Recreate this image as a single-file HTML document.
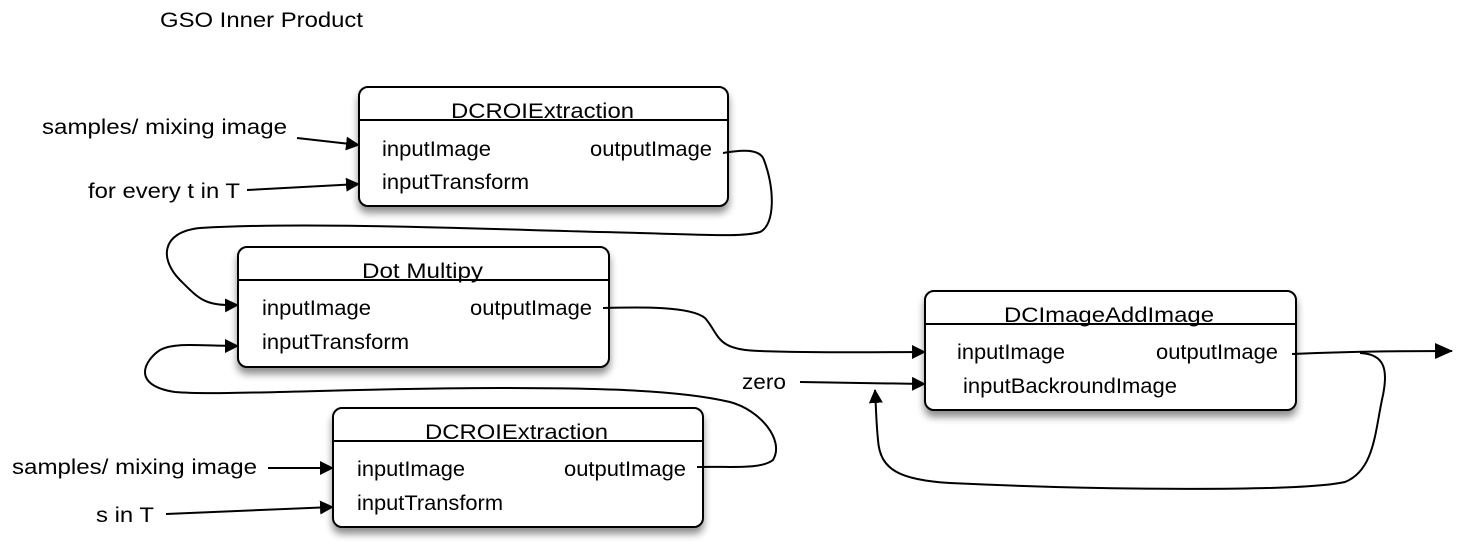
<!DOCTYPE html>
<html><head><meta charset="utf-8"><style>
html,body{margin:0;padding:0;background:#fff;}
svg{display:block;}
text{font-family:"Liberation Sans",Arial,sans-serif;font-size:21px;fill:#000;}
</style></head><body>
<svg width="1480" height="558" viewBox="0 0 1480 558" xmlns="http://www.w3.org/2000/svg">
<defs>
<marker id="a" markerWidth="14" markerHeight="14" refX="13" refY="7" orient="auto" markerUnits="userSpaceOnUse"><path d="M0,0 L14,7 L0,14 z" fill="#000"/></marker>
<marker id="b" markerWidth="18" markerHeight="16" refX="17" refY="8" orient="auto" markerUnits="userSpaceOnUse"><path d="M0,0 L18,8 L0,16 z" fill="#000"/></marker>
<filter id="s" x="-10%" y="-10%" width="120%" height="140%"><feGaussianBlur in="SourceAlpha" stdDeviation="4"/><feOffset dx="0" dy="6"/><feComponentTransfer><feFuncA type="linear" slope="0.45"/></feComponentTransfer><feMerge><feMergeNode/><feMergeNode in="SourceGraphic"/></feMerge></filter>
</defs>
<text x="160" y="27" textLength="203" lengthAdjust="spacingAndGlyphs">GSO Inner Product</text>

<rect x="359" y="87" width="369" height="119" rx="9" fill="#fff" stroke="#000" stroke-width="2" filter="url(#s)"/>
<line x1="359" y1="120" x2="728" y2="120" stroke="#000" stroke-width="2"/>
<text x="451" y="118" textLength="183" lengthAdjust="spacingAndGlyphs">DCROIExtraction</text>
<text x="382" y="156" textLength="109" lengthAdjust="spacingAndGlyphs">inputImage</text>
<text x="590" y="156" textLength="122" lengthAdjust="spacingAndGlyphs">outputImage</text>
<text x="382" y="189" textLength="147" lengthAdjust="spacingAndGlyphs">inputTransform</text>

<rect x="238" y="247" width="371" height="120" rx="9" fill="#fff" stroke="#000" stroke-width="2" filter="url(#s)"/>
<line x1="238" y1="280" x2="609" y2="280" stroke="#000" stroke-width="2"/>
<text x="362" y="278" textLength="121" lengthAdjust="spacingAndGlyphs">Dot Multipy</text>
<text x="262" y="315" textLength="109" lengthAdjust="spacingAndGlyphs">inputImage</text>
<text x="470" y="315" textLength="122" lengthAdjust="spacingAndGlyphs">outputImage</text>
<text x="262" y="349" textLength="147" lengthAdjust="spacingAndGlyphs">inputTransform</text>

<rect x="333" y="408" width="370" height="119" rx="9" fill="#fff" stroke="#000" stroke-width="2" filter="url(#s)"/>
<line x1="333" y1="441" x2="703" y2="441" stroke="#000" stroke-width="2"/>
<text x="425" y="439" textLength="183" lengthAdjust="spacingAndGlyphs">DCROIExtraction</text>
<text x="357" y="476" textLength="108" lengthAdjust="spacingAndGlyphs">inputImage</text>
<text x="564" y="476" textLength="122" lengthAdjust="spacingAndGlyphs">outputImage</text>
<text x="357" y="510" textLength="146" lengthAdjust="spacingAndGlyphs">inputTransform</text>

<rect x="925" y="291" width="371" height="119" rx="9" fill="#fff" stroke="#000" stroke-width="2" filter="url(#s)"/>
<line x1="925" y1="324" x2="1296" y2="324" stroke="#000" stroke-width="2"/>
<text x="1004" y="322" textLength="210" lengthAdjust="spacingAndGlyphs">DCImageAddImage</text>
<text x="957" y="359" textLength="108" lengthAdjust="spacingAndGlyphs">inputImage</text>
<text x="1156" y="359" textLength="122" lengthAdjust="spacingAndGlyphs">outputImage</text>
<text x="963" y="393" textLength="214" lengthAdjust="spacingAndGlyphs">inputBackroundImage</text>

<text x="42" y="134" textLength="245" lengthAdjust="spacingAndGlyphs">samples/ mixing image</text>
<text x="88" y="198" textLength="152" lengthAdjust="spacingAndGlyphs">for every t in T</text>
<text x="742" y="389" textLength="44" lengthAdjust="spacingAndGlyphs">zero</text>
<text x="12" y="474" textLength="245" lengthAdjust="spacingAndGlyphs">samples/ mixing image</text>
<text x="96" y="522" textLength="58" lengthAdjust="spacingAndGlyphs">s in T</text>

<g fill="none" stroke="#000" stroke-width="2">
<path d="M297,138 L359,145" marker-end="url(#a)"/>
<path d="M247,190 L359,184" marker-end="url(#a)"/>
<path d="M268,468 L333,468" marker-end="url(#a)"/>
<path d="M166,514 L333,507" marker-end="url(#a)"/>
<path d="M800,382 L925,384" marker-end="url(#a)"/>
<path d="M723,153 C740,150 760,148 764,160 C775,190 775,225 760,232 C740,238 700,234 600,232 C450,228 300,222 200,228 C160,232 160,260 180,280 C200,300 205,306 238,305" marker-end="url(#a)"/>
<path d="M603,308 C640,307 690,306 705,318 C720,335 715,350 760,351 C820,353 880,352 925,352" marker-end="url(#a)"/>
<path d="M697,467 C730,466 760,470 773,460 C785,440 760,410 730,402 C680,390 600,388 500,388 C350,388 220,396 175,392 C130,385 145,360 160,350 C175,342 200,346 238,346" marker-end="url(#a)"/>
<path d="M1292,354 C1340,352 1400,351 1452,351" marker-end="url(#b)"/>
<path d="M1360,353 C1385,354 1388,370 1383,395 C1375,430 1375,470 1345,482 C1300,492 1100,490 950,483 C900,480 880,470 878,440 C876,420 876,405 875,390" marker-end="url(#a)"/>
</g>
</svg>
</body></html>
